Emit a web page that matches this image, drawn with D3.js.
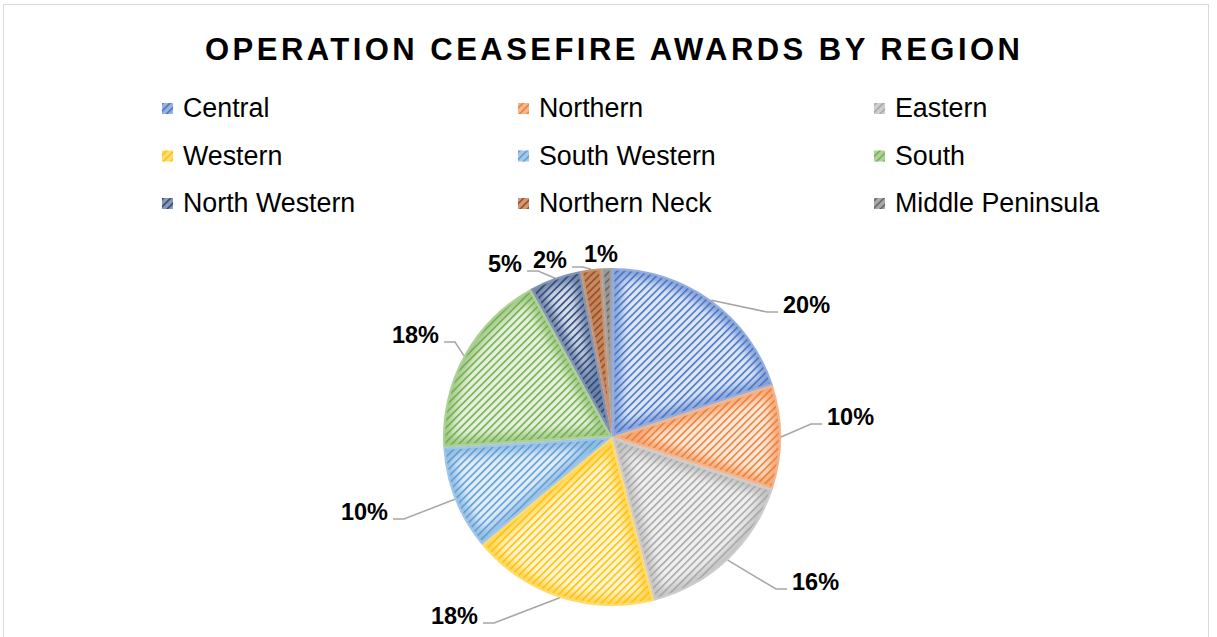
<!DOCTYPE html>
<html>
<head>
<meta charset="utf-8">
<script src="https://cdn.jsdelivr.net/npm/d3@7/dist/d3.min.js"></script>
<style>
  html, body { margin: 0; padding: 0; background: #fff; }
  svg { display: block; }
  text { font-family: "Liberation Sans", Arial, sans-serif; }
</style>
</head>
<body>
<svg id="chart" width="1217" height="637"></svg>
<script>
// ---- data ----
const categories = ["Central", "Northern", "Eastern", "Western", "South Western", "South", "North Western", "Northern Neck", "Middle Peninsula"];
const values = [20, 10, 16, 18, 10, 18, 5, 2, 1];
const colors = ["#4472C4", "#ED7D31", "#A5A5A5", "#FFC000", "#5B9BD5", "#70AD47", "#264478", "#9E480E", "#636363"];
const title = "OPERATION CEASEFIRE AWARDS BY REGION";

// ---- layout (label placement, offsets from pie centre) ----
const labelLayout = [
  { dx: 171, dy: -124, anchor: "start" },
  { dx: 215, dy: -12, anchor: "start" },
  { dx: 180, dy: 153, anchor: "start" },
  { dx: -134, dy: 187, anchor: "end" },
  { dx: -224, dy: 83, anchor: "end" },
  { dx: -173, dy: -94, anchor: "end" },
  { dx: -90, dy: -165, anchor: "end" },
  { dx: -45, dy: -169, anchor: "end" },
  { dx: -11, dy: -175, anchor: "middle", noLine: true }
];

const W = 1217, H = 637;
const cx = 612, cy = 437, R = 169;
const svg = d3.select("#chart");
const defs = svg.append("defs");

// border
svg.append("rect").attr("x", 3.5).attr("y", 4.5).attr("width", 1205).attr("height", 650)
  .attr("fill", "#fff").attr("stroke", "#d9d9d9").attr("stroke-width", 1);

// title
svg.append("text").attr("x", 612.5).attr("y", 60).attr("text-anchor", "middle")
  .attr("font-size", 31).attr("font-weight", "bold").attr("fill", "#000")
  .attr("textLength", 815).attr("lengthAdjust", "spacing")
  .text(title);

// patterns (wide upward diagonal stripes)
colors.forEach((c, i) => {
  const p = defs.append("pattern").attr("id", "pat" + i)
    .attr("patternUnits", "userSpaceOnUse").attr("width", 5.2).attr("height", 10)
    .attr("patternTransform", "rotate(45)");
  p.append("rect").attr("x", 0).attr("y", 0).attr("width", 1.5).attr("height", 10)
    .attr("fill", c);
});
const blur = defs.append("filter").attr("id", "glow")
  .attr("x", "-20%").attr("y", "-20%").attr("width", "140%").attr("height", "140%");
blur.append("feGaussianBlur").attr("stdDeviation", 5);

// legend
const legend = svg.append("g");
categories.forEach((name, i) => {
  const col = i % 3, row = Math.floor(i / 3);
  const x = 162 + col * 356, y = 117 + row * 47.5;
  const tint = d3.interpolateRgb(colors[i], "#fff")(0.45);
  legend.append("rect").attr("x", x).attr("y", y - 14).attr("width", 11).attr("height", 11).attr("fill", tint);
  legend.append("rect").attr("x", x).attr("y", y - 14).attr("width", 11).attr("height", 11).attr("fill", `url(#pat${i})`);
  legend.append("text").attr("x", x + 21).attr("y", y).attr("font-size", 26.8).attr("fill", "#000").text(name);
});

// pie
const pie = d3.pie().sort(null).value(d => d)(values);
const arc = d3.arc().innerRadius(0).outerRadius(R);
const g = svg.append("g").attr("transform", `translate(${cx},${cy})`);

pie.forEach((d, i) => {
  const path = arc(d);
  defs.append("clipPath").attr("id", "clip" + i).append("path").attr("d", path).attr("transform", `translate(${cx},${cy})`);
  g.append("path").attr("d", path).attr("fill", d3.interpolateRgb(colors[i], "#fff")(0.82));
  svg.append("g").attr("clip-path", `url(#clip${i})`)
    .append("path").attr("d", path).attr("transform", `translate(${cx},${cy})`)
    .attr("fill", "none").attr("stroke", colors[i]).attr("stroke-width", 18)
    .attr("stroke-opacity", 0.6).attr("filter", "url(#glow)");
});
pie.forEach((d, i) => {
  g.append("path").attr("d", arc(d)).attr("fill", `url(#pat${i})`);
});
pie.forEach((d, i) => {
  g.append("path").attr("d", arc(d)).attr("fill", "none").attr("stroke", "#fff").attr("stroke-width", 4.5).attr("stroke-linejoin", "round");
});

// labels + leader lines
const total = d3.sum(values);
pie.forEach((d, i) => {
  const L = labelLayout[i];
  const mid = (d.startAngle + d.endAngle) / 2;
  const sx = Math.sin(mid) * R, sy = -Math.cos(mid) * R;
  const tx = L.dx, ty = L.dy;
  if (!L.noLine) {
    const dir = L.anchor === "start" ? -1 : 1;
    const ex = tx + dir * 5, ey = ty - 1;
    const elx = ex + dir * 11;
    g.append("polyline").attr("points", `${sx},${sy} ${elx},${ey} ${ex},${ey}`)
      .attr("fill", "none").attr("stroke", "#a6a6a6").attr("stroke-width", 1.5);
  }
  g.append("text").attr("x", tx).attr("y", ty).attr("text-anchor", L.anchor)
    .attr("font-size", 23.5).attr("font-weight", "bold").attr("fill", "#000")
    .text(Math.round(d.data / total * 100) + "%");
});
</script>
</body>
</html>
